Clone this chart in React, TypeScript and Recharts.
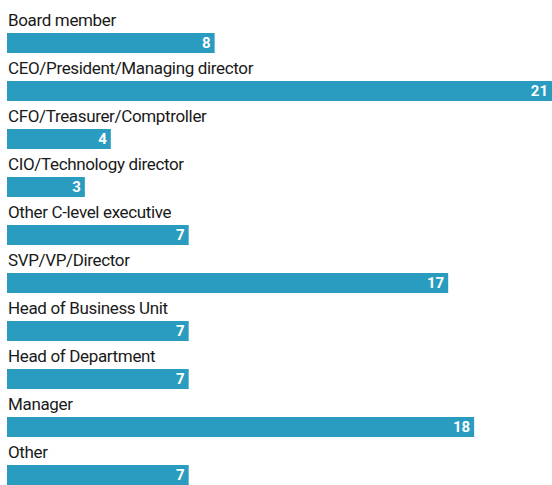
import React from 'react';
import { Bar, BarChart, LabelList, XAxis, YAxis } from 'recharts';

const roles = [
  'Board member',
  'CEO/President/Managing director',
  'CFO/Treasurer/Comptroller',
  'CIO/Technology director',
  'Other C-level executive',
  'SVP/VP/Director',
  'Head of Business Unit',
  'Head of Department',
  'Manager',
  'Other',
];
const shares = [8, 21, 4, 3, 7, 17, 7, 7, 18, 7];

const data = roles.map((role, i) => ({ role, value: shares[i] }));

const FONT = 'Roboto, sans-serif';

const RoleLabel = (props: any) => {
  const { y, index } = props;
  return (
    <text
      x={8}
      y={Number(y) - 7}
      fontSize={17}
      letterSpacing={-0.35}
      fill="#1a1a1a"
      fontFamily={FONT}
    >
      {roles[index]}
    </text>
  );
};

const ValueLabel = (props: any) => {
  const { x, y, width, value } = props;
  return (
    <text
      x={Number(x) + Number(width) - 4}
      y={Number(y) + 15}
      textAnchor="end"
      fontSize={15}
      fontWeight="bold"
      fill="#ffffff"
      fontFamily={FONT}
    >
      {value}
    </text>
  );
};

export default function App() {
  return (
    <div style={{ position: 'fixed', left: 0, top: 0, width: 552, height: 485, overflow: 'hidden', background: '#fff' }}>
      <BarChart
        width={552}
        height={499}
        data={data}
        layout="vertical"
        margin={{ top: 19, right: 0, bottom: 0, left: 7 }}
        barSize={20}
      >
        <XAxis type="number" domain={[0, 21]} hide />
        <YAxis type="category" dataKey="role" hide />
        <Bar dataKey="value" fill="#2a9cc0" isAnimationActive={false}>
          <LabelList dataKey="role" content={RoleLabel} />
          <LabelList dataKey="value" content={ValueLabel} />
        </Bar>
      </BarChart>
    </div>
  );
}
